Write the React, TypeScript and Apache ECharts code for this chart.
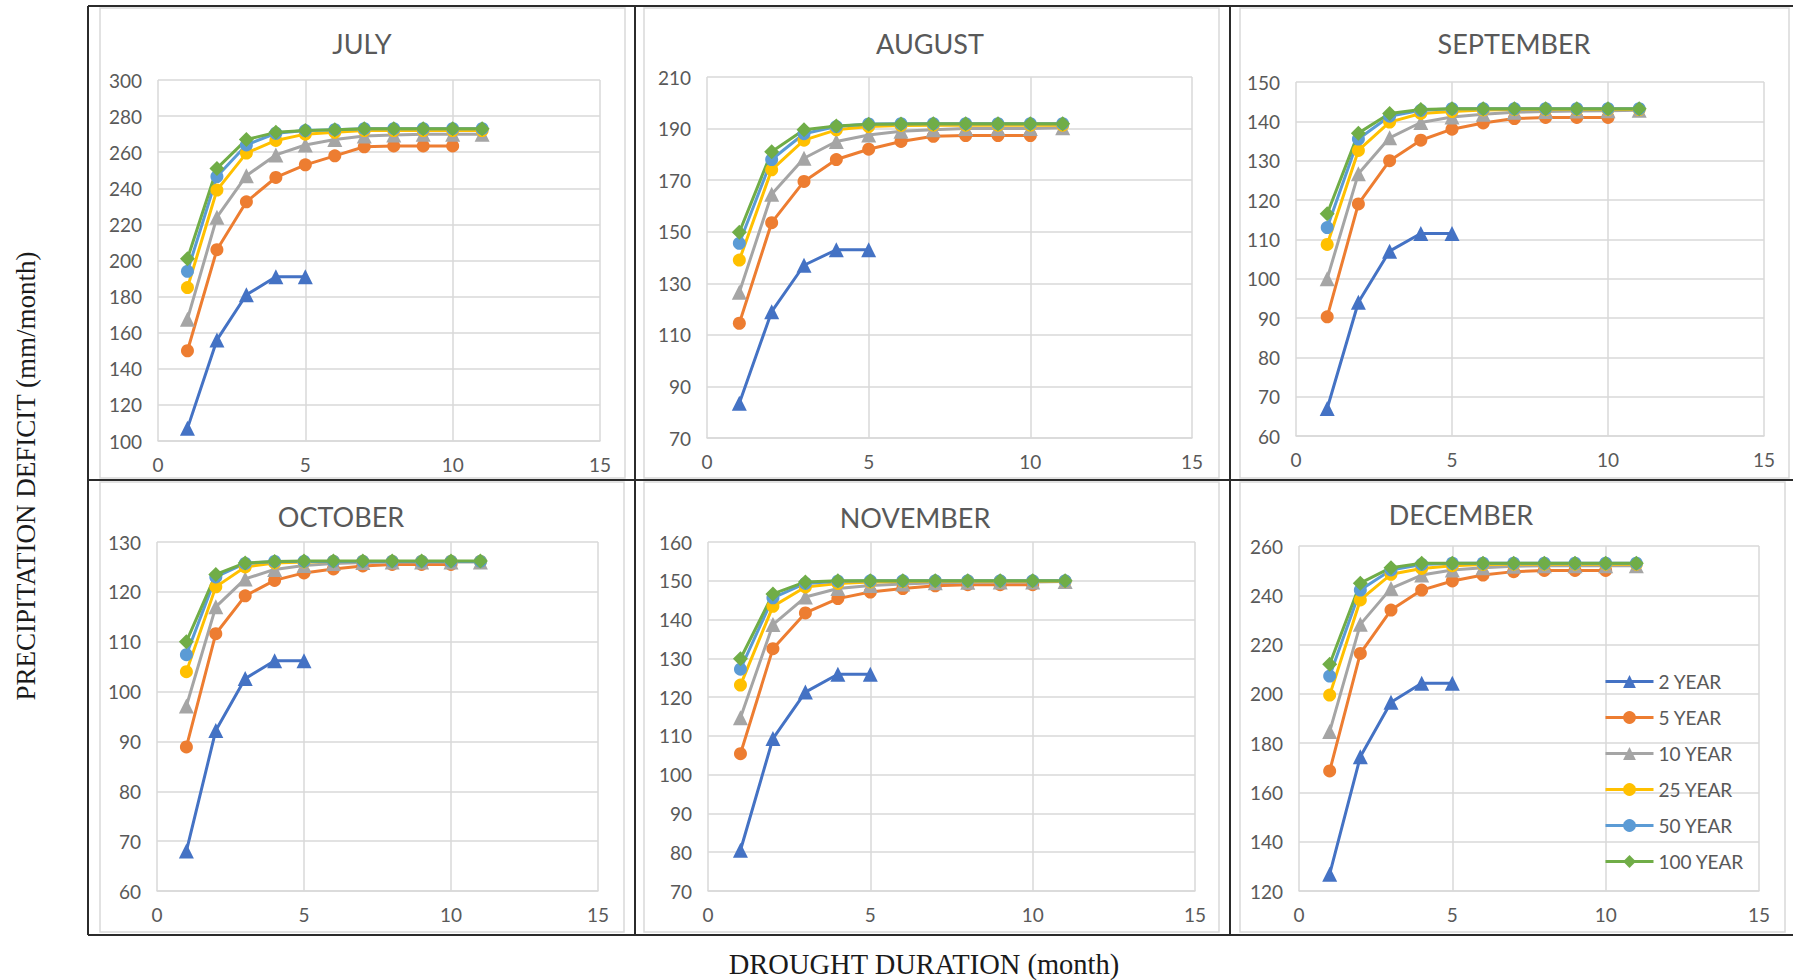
import React, { useEffect, useRef } from "react";
import * as echarts from "echarts";

// Drought duration (months) on the x axis
const durations = [1, 2, 3, 4, 5, 6, 7, 8, 9, 10, 11];
const returnPeriods = ["2 YEAR", "5 YEAR", "10 YEAR", "25 YEAR", "50 YEAR", "100 YEAR"];
const months = ["JULY", "AUGUST", "SEPTEMBER", "OCTOBER", "NOVEMBER", "DECEMBER"];

// Precipitation deficit (mm/month), one list per return period
const july = [
  [107, 156, 181, 191, 191],
  [150, 206, 232.5, 246, 253, 258, 263, 263.5, 263.5, 263.5],
  [167.5, 224, 247, 258.5, 264, 267, 269, 269.5, 270, 270, 270],
  [185, 239, 259.5, 266.5, 270, 271, 272, 272, 272, 272, 272],
  [194, 246.5, 264, 270.5, 272, 272.5, 273, 273, 273, 273, 273],
  [201, 251, 267, 271, 272, 272.5, 273, 273, 273, 273, 273],
];
const august = [
  [83.5, 119, 137, 143, 143],
  [114.5, 153.5, 169.5, 178, 182, 185, 187, 187.3, 187.3, 187.3],
  [126.5, 164.5, 178.5, 185, 187.5, 189, 189.5, 190, 190, 190, 190.3],
  [139, 174, 185.5, 189.5, 190.8, 191.2, 191.3, 191.3, 191.3, 191.3, 191.3],
  [145.5, 178, 188, 190.8, 191.8, 191.9, 191.9, 191.9, 191.9, 191.9, 191.9],
  [149.8, 181, 189.5, 191, 191.7, 191.8, 191.9, 191.9, 191.9, 191.9, 191.9],
];
const september = [
  [67, 94, 107, 111.5, 111.5],
  [90.3, 119, 130, 135.2, 138, 139.6, 140.7, 141, 141, 141],
  [100, 126.7, 135.8, 139.7, 141.1, 141.8, 142.3, 142.5, 142.6, 142.7, 142.8],
  [108.7, 132.6, 139.8, 142, 142.5, 142.9, 143, 143, 143, 143, 143],
  [113, 135.5, 141.3, 142.8, 143.2, 143.2, 143.2, 143.2, 143.2, 143.2, 143.2],
  [116.5, 137, 142, 143, 143.2, 143.2, 143.2, 143.2, 143.2, 143.2, 143.2],
];
const october = [
  [68, 92.2, 102.6, 106.2, 106.2],
  [88.9, 111.6, 119.2, 122.3, 123.8, 124.6, 125.2, 125.5, 125.5, 125.5],
  [97.1, 117, 122.6, 124.5, 125.3, 125.7, 125.9, 126, 126, 126, 126],
  [104, 121, 125, 125.8, 126, 126.1, 126.1, 126.1, 126.1, 126.1, 126.1],
  [107.4, 123, 125.7, 126.1, 126.1, 126.1, 126.1, 126.1, 126.1, 126.1, 126.1],
  [110, 123.5, 125.8, 126.1, 126.2, 126.2, 126.2, 126.2, 126.2, 126.2, 126.2],
];
const november = [
  [80.5, 109.3, 121.3, 125.9, 125.9],
  [105.4, 132.5, 141.7, 145.4, 147.1, 148, 148.7, 149, 149, 149],
  [114.7, 138.7, 145.8, 148, 148.8, 149.2, 149.5, 149.6, 149.7, 149.7, 149.8],
  [123.1, 143.4, 148.4, 149.3, 149.7, 149.8, 149.9, 149.9, 149.9, 149.9, 149.9],
  [127.2, 145.6, 149.3, 149.9, 150, 150, 150, 150, 150, 150, 150],
  [129.9, 146.6, 149.7, 150, 150, 150, 150, 150, 150, 150, 150],
];
const december = [
  [126.8, 174.5, 196.6, 204.3, 204.3],
  [168.7, 216.4, 234, 242.1, 245.8, 248.2, 249.6, 250.1, 250.1, 250.1],
  [184.7, 228.2, 242.8, 248.2, 250.3, 251.2, 251.8, 252, 252, 252, 252],
  [199.5, 238.1, 248.5, 250.9, 252, 252.5, 252.6, 252.6, 252.6, 252.6, 252.6],
  [207.2, 242.1, 250.3, 252.5, 253, 253, 253, 253, 253, 253, 253],
  [212, 244.9, 251.2, 253, 253, 253, 253, 253, 253, 253, 253],
];
const monthValues = [july, august, september, october, november, december];

// y axis ranges per month
const yMin = [100, 70, 60, 60, 70, 120];
const yMax = [300, 210, 150, 130, 160, 260];
const yStep = [20, 20, 10, 10, 10, 20];
const xMin = 0;
const xMax = 15;
const xStep = 5;

// Styling
const seriesColors = ["#4472C4", "#ED7D31", "#A5A5A5", "#FFC000", "#5B9BD5", "#70AD47"];
const seriesSymbols = ["triangle", "circle", "triangle", "circle", "circle", "diamond"];
const seriesSymbolSizes = [15, 13, 15, 13, 13, 15];

const PANELS = [
  { left: 158, top: 80, width: 442, height: 361, titleX: 362, titleY: 43 },
  { left: 707, top: 77, width: 485, height: 361, titleX: 930, titleY: 43 },
  { left: 1296, top: 82, width: 468, height: 354, titleX: 1514, titleY: 43 },
  { left: 157, top: 542, width: 441, height: 349, titleX: 341, titleY: 516 },
  { left: 708, top: 542, width: 487, height: 349, titleX: 915, titleY: 517 },
  { left: 1299, top: 546, width: 460, height: 345, titleX: 1461, titleY: 514 },
];

const CHART_BOXES = [
  { x: 100, y: 8, w: 525, h: 470 },
  { x: 644, y: 8, w: 575, h: 470 },
  { x: 1240, y: 8, w: 549, h: 470 },
  { x: 100, y: 482, w: 524, h: 450 },
  { x: 644, y: 482, w: 575, h: 450 },
  { x: 1240, y: 482, w: 545, h: 450 },
];

const GRID_GRAY = "#D9D9D9";
const TEXT_GRAY = "#595959";
const SANS = "Lato, 'Open Sans', sans-serif";
const SERIF = "'Liberation Serif', 'DejaVu Serif', serif";

export default function App() {
  const ref = useRef<HTMLDivElement>(null);

  useEffect(() => {
    if (!ref.current) return;
    const chart = echarts.init(ref.current, undefined, { renderer: "svg" });

    const grid = PANELS.map((p) => ({
      left: p.left,
      top: p.top,
      width: p.width,
      height: p.height,
      containLabel: false,
    }));

    const xAxis = PANELS.map((_, i) => ({
      type: "value",
      gridIndex: i,
      min: xMin,
      max: xMax,
      interval: xStep,
      axisLine: { show: true, lineStyle: { color: GRID_GRAY, width: 1.5 } },
      axisTick: { show: false },
      axisLabel: { color: TEXT_GRAY, fontFamily: SANS, fontSize: 19, margin: 14 },
      splitLine: { show: true, lineStyle: { color: GRID_GRAY, width: 1.5 } },
    }));

    const yAxis = PANELS.map((_, i) => ({
      type: "value",
      gridIndex: i,
      min: yMin[i],
      max: yMax[i],
      interval: yStep[i],
      axisLine: { show: false },
      axisTick: { show: false },
      axisLabel: { color: TEXT_GRAY, fontFamily: SANS, fontSize: 19, margin: 16 },
      splitLine: { show: true, lineStyle: { color: GRID_GRAY, width: 1.5 } },
    }));

    const series: any[] = [];
    monthValues.forEach((values, i) => {
      values.forEach((vals, j) => {
        series.push({
          type: "line",
          name: returnPeriods[j],
          xAxisIndex: i,
          yAxisIndex: i,
          data: vals.map((v, k) => [durations[k], v]),
          symbol: seriesSymbols[j],
          symbolSize: seriesSymbolSizes[j],
          showSymbol: true,
          lineStyle: { color: seriesColors[j], width: 3 },
          itemStyle: { color: seriesColors[j] },
          emphasis: { disabled: true },
        });
      });
    });

    const graphics: any[] = [];
    CHART_BOXES.forEach((b) => {
      graphics.push({
        type: "rect",
        shape: { x: b.x, y: b.y, width: b.w, height: b.h },
        style: { fill: "none", stroke: GRID_GRAY, lineWidth: 1.5 },
        silent: true,
      });
    });
    PANELS.forEach((p, i) => {
      graphics.push({
        type: "text",
        x: p.titleX,
        y: p.titleY,
        style: {
          text: months[i],
          fill: TEXT_GRAY,
          font: `27px ${SANS}`,
          align: "center",
          verticalAlign: "middle",
          textAlign: "center",
          textVerticalAlign: "middle",
        },
        silent: true,
      });
    });
    // black frame around the panel grid
    const frame = "#2b2b2b";
    const frameLines = [
      [88, 6, 1793, 6],
      [88, 480, 1793, 480],
      [88, 935, 1793, 935],
      [88, 6, 88, 935],
      [635, 6, 635, 935],
      [1230, 6, 1230, 935],
    ];
    frameLines.forEach(([x1, y1, x2, y2]) => {
      graphics.push({
        type: "line",
        shape: { x1, y1, x2, y2 },
        style: { stroke: frame, lineWidth: 2 },
        silent: true,
      });
    });
    graphics.push({
      type: "text",
      x: 26,
      y: 476,
      rotation: Math.PI / 2,
      style: {
        text: "PRECIPITATION DEFICIT (mm/month)",
        fill: "#1a1a1a",
        font: `27px ${SERIF}`,
        align: "center",
        verticalAlign: "middle",
        textAlign: "center",
        textVerticalAlign: "middle",
      },
      silent: true,
    });
    graphics.push({
      type: "text",
      x: 924,
      y: 964,
      style: {
        text: "DROUGHT DURATION (month)",
        fill: "#1a1a1a",
        font: `28.5px ${SERIF}`,
        align: "center",
        verticalAlign: "middle",
        textAlign: "center",
        textVerticalAlign: "middle",
      },
      silent: true,
    });

    chart.setOption({
      animation: false,
      backgroundColor: "#ffffff",
      grid,
      xAxis,
      yAxis,
      series,
      legend: {
        data: returnPeriods,
        orient: "vertical",
        left: 1604,
        top: 672,
        padding: 0,
        itemWidth: 48,
        itemHeight: 16,
        itemGap: 17,
        lineStyle: { width: 3 },
        textStyle: { color: TEXT_GRAY, fontFamily: SANS, fontSize: 19 },
        selectedMode: false,
      },
      graphic: graphics,
    });

    return () => {
      chart.dispose();
    };
  }, []);

  return (
    <div
      ref={ref}
      style={{ position: "fixed", left: 0, top: 0, width: 1793, height: 980, background: "#fff" }}
    />
  );
}
